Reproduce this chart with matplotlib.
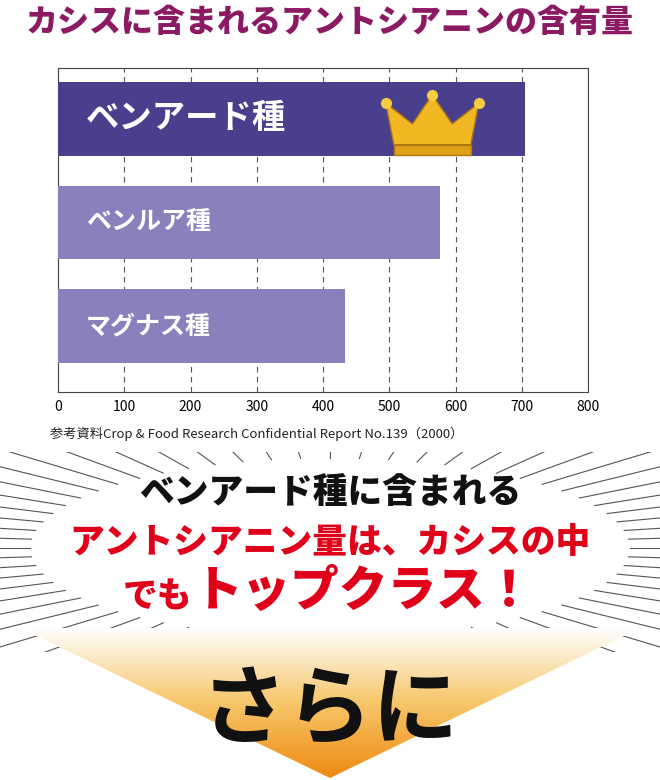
import numpy as np
import matplotlib.pyplot as plt
from matplotlib.patches import Polygon, Rectangle
from matplotlib.colors import LinearSegmentedColormap

plt.rcParams['font.family'] = ['Noto Sans CJK JP', 'DejaVu Sans']

varieties = ['マグナス種', 'ベンルア種', 'ベンアード種']
anthocyanin = [433, 577, 705]
ticks = [0, 100, 200, 300, 400, 500, 600, 700, 800]

W, H = 660, 780
fig = plt.figure(figsize=(6.6, 7.8), dpi=100)

# background layer in pixel coords
bg = fig.add_axes([0, 0, 1, 1])
bg.set_xlim(0, W)
bg.set_ylim(H, 0)
bg.axis('off')

# radiating lines, only in the band below the chart
clip = Rectangle((0, 452), W, 200, transform=bg.transData)
cx, cy = 330, 548
for a in np.linspace(0, 2 * np.pi, 64, endpoint=False):
    x1, y1 = cx + 300 * np.cos(a), cy + 90 * np.sin(a)
    x2, y2 = cx + 700 * np.cos(a), cy + 210 * np.sin(a)
    ln, = bg.plot([x1, x2], [y1, y2], color='#555555', lw=0.8, zorder=1)
    ln.set_clip_path(clip)

# orange gradient arrow
tri = Polygon([[20, 628], [640, 628], [330, 778]], closed=True, fc='none', ec='none')
bg.add_patch(tri)
grad = np.linspace(0, 1, 256)[:, None]
cmap = LinearSegmentedColormap.from_list('o', ['#ffffff', '#f7c66a', '#ee8a10'])
im = bg.imshow(grad, extent=[20, 640, 778, 628], cmap=cmap, aspect='auto', zorder=2)
im.set_clip_path(tri)

fig.text(0.5, 1 - 22 / H, 'カシスに含まれるアントシアニンの含有量', ha='center', va='center',
         fontsize=23, fontweight='heavy', color='#8b1a62')
fig.text(50 / W, 1 - 434 / H, '参考資料Crop & Food Research Confidential Report No.139（2000）',
         ha='left', va='center', fontsize=9.5, color='#222222')
fig.text(0.5, 1 - 492 / H, 'ベンアード種に含まれる', ha='center', va='center',
         fontsize=25, fontweight='heavy', color='#111111')
fig.text(0.5, 1 - 543 / H, 'アントシアニン量は、カシスの中', ha='center', va='center',
         fontsize=25, fontweight='heavy', color='#e0001a')
fig.text(192 / W, 1 - 597 / H, 'でも', ha='right', va='center',
         fontsize=25, fontweight='heavy', color='#e0001a')
fig.text(194 / W, 1 - 592 / H, 'トップクラス！', ha='left', va='center',
         fontsize=35, fontweight='heavy', color='#e0001a')
fig.text(0.5, 1 - 712 / H, 'さらに', ha='center', va='center',
         fontsize=62, fontweight='bold', color='#111111', zorder=5)

# chart
ax = fig.add_axes([58 / W, 1 - 392 / H, 530 / W, 324 / H])
ypos = [0.5, 1.5, 2.5]
colors = ['#8a80bc', '#8a80bc', '#4a3f8c']
ax.barh(ypos, anthocyanin, height=0.71, color=colors, zorder=3)
for y, name, c in zip(ypos, varieties, colors):
    ax.text(42, y, name, color='white', fontweight='bold', va='center', ha='left',
            fontsize=24 if c == '#4a3f8c' else 18, zorder=4)
ax.set_xlim(0, 800)
ax.set_ylim(-0.135, 2.99)
ax.set_xticks(ticks)
ax.set_xticklabels([str(t) for t in ticks], fontsize=10)
ax.set_yticks([])
ax.tick_params(axis='x', length=0, pad=6)
ax.xaxis.grid(True, linestyle=(0, (5, 4)), color='#555555', lw=0.8, zorder=0)
for s in ax.spines.values():
    s.set_color('#444444')

# crown
cxw, cyw = 565, 2.45
crown = [[-58, -0.2], [58, -0.2], [70, 0.2], [30, 0.0], [0, 0.28], [-30, 0.0], [-70, 0.2]]
ax.add_patch(Polygon([[cxw + dx, cyw + dy] for dx, dy in crown], closed=True,
                     fc='#f2b824', ec='#b07a10', lw=1, zorder=5))
ax.add_patch(Polygon([[cxw - 58, cyw - 0.2], [cxw + 58, cyw - 0.2], [cxw + 58, cyw - 0.3], [cxw - 58, cyw - 0.3]],
                     closed=True, fc='#e0a018', ec='#b07a10', lw=1, zorder=5))
for dx, dy in [(-70, 0.2), (0, 0.28), (70, 0.2)]:
    ax.plot(cxw + dx, cyw + dy, 'o', color='#f6cc40', ms=7, zorder=6)

fig.savefig('out.png', dpi=100)
